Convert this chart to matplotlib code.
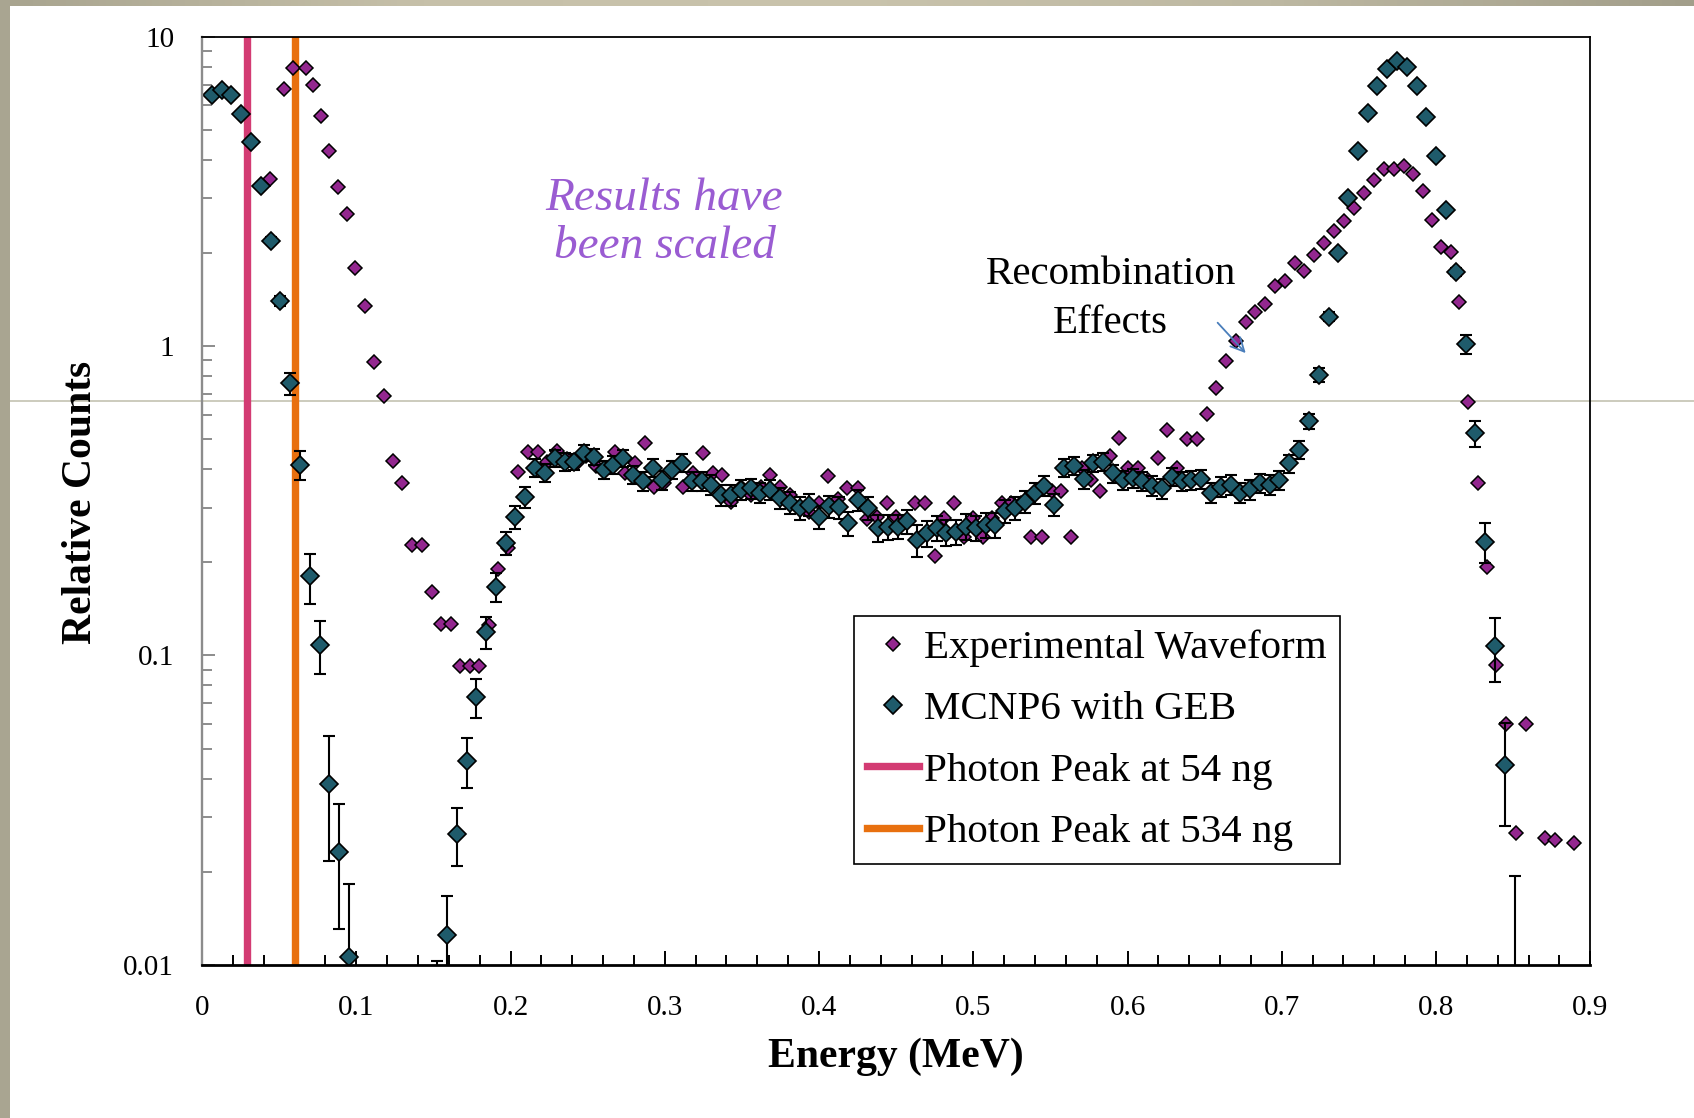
import numpy as np
import matplotlib
matplotlib.use("Agg")
import matplotlib.pyplot as plt
from matplotlib.lines import Line2D
from matplotlib.patches import Rectangle
from matplotlib.colors import LinearSegmentedColormap
from matplotlib.ticker import MultipleLocator, LogLocator, NullFormatter, FuncFormatter

plt.rcParams["font.family"] = ["Liberation Serif", "DejaVu Serif"]

# ---------------------------------------------------------------------------
# MCNP6 with GEB: bin energy (MeV), relative counts and 1-sigma uncertainty
# ---------------------------------------------------------------------------
sim_energy = [
    0.0064, 0.0127, 0.0191, 0.0254, 0.0318, 0.0381, 0.0445, 0.0508, 0.0572, 0.0635,
    0.0699, 0.0762, 0.0826, 0.0889, 0.0953,
    0.1524, 0.1588, 0.1651, 0.1715, 0.1778, 0.1842, 0.1905, 0.1969, 0.2032, 0.2096, 0.2159,
    0.2223, 0.2286, 0.2350, 0.2413, 0.2477, 0.2540, 0.2604, 0.2667, 0.2731, 0.2794,
    0.2858, 0.2921, 0.2985, 0.3048, 0.3112, 0.3175, 0.3239, 0.3302, 0.3366, 0.3429,
    0.3493, 0.3556, 0.3620, 0.3683, 0.3747, 0.3810, 0.3874, 0.3937, 0.4001, 0.4064,
    0.4128, 0.4191, 0.4255, 0.4318, 0.4382, 0.4445, 0.4509, 0.4572, 0.4636, 0.4699,
    0.4763, 0.4826, 0.4890, 0.4953, 0.5017, 0.5080, 0.5144, 0.5207, 0.5271, 0.5334,
    0.5398, 0.5461, 0.5525, 0.5588, 0.5652, 0.5715, 0.5779, 0.5842, 0.5906, 0.5969,
    0.6033, 0.6096, 0.6160, 0.6223, 0.6287, 0.6350, 0.6414, 0.6477, 0.6541, 0.6604,
    0.6668, 0.6731, 0.6795, 0.6858, 0.6922, 0.6985, 0.7049, 0.7112, 0.7176, 0.7239,
    0.7303, 0.7366, 0.7430, 0.7493, 0.7557, 0.7620, 0.7684, 0.7747, 0.7811, 0.7874,
    0.7938, 0.8001, 0.8065, 0.8128, 0.8192, 0.8255, 0.8319, 0.8382, 0.8446, 0.8509,
]
sim_counts = [
    6.48, 6.75, 6.48, 5.61, 4.55, 3.30, 2.19, 1.40, 0.757, 0.413,
    0.180, 0.108, 0.0383, 0.0231, 0.0106,
    0.006, 0.0125, 0.0265, 0.0456, 0.0735, 0.119, 0.1665, 0.231, 0.281, 0.325, 0.403,
    0.390, 0.434, 0.423, 0.423, 0.451, 0.439, 0.398, 0.413, 0.434, 0.383,
    0.365, 0.403, 0.369, 0.398, 0.420, 0.365, 0.365, 0.356, 0.330, 0.330,
    0.343, 0.347, 0.335, 0.343, 0.322, 0.312, 0.299, 0.307, 0.281, 0.303,
    0.301, 0.267, 0.317, 0.299, 0.258, 0.260, 0.261, 0.271, 0.236, 0.248,
    0.258, 0.249, 0.251, 0.261, 0.258, 0.264, 0.264, 0.292, 0.299, 0.314,
    0.335, 0.353, 0.307, 0.403, 0.410, 0.371, 0.418, 0.423, 0.388, 0.369,
    0.375, 0.366, 0.353, 0.347, 0.378, 0.365, 0.369, 0.371, 0.335, 0.351,
    0.356, 0.335, 0.344, 0.360, 0.356, 0.369, 0.418, 0.462, 0.573, 0.807,
    1.246, 2.00, 3.01, 4.28, 5.66, 6.94, 7.86, 8.32, 7.97, 6.94,
    5.52, 4.10, 2.76, 1.733, 1.016, 0.523, 0.233, 0.107, 0.0443, 0.004,
]
sim_error = [
    0.05, 0.05, 0.05, 0.05, 0.05, 0.05, 0.06, 0.05, 0.06, 0.044,
    0.033, 0.021, 0.0167, 0.010, 0.0077,
    0.0043, 0.0042, 0.0057, 0.0084, 0.0107, 0.014, 0.0176, 0.020, 0.024, 0.025, 0.027,
    0.027, 0.026, 0.027, 0.026, 0.027, 0.027, 0.026, 0.027, 0.027, 0.026,
    0.026, 0.027, 0.026, 0.027, 0.027, 0.026, 0.026, 0.026, 0.025, 0.025,
    0.026, 0.026, 0.025, 0.026, 0.025, 0.025, 0.025, 0.025, 0.024, 0.025,
    0.025, 0.024, 0.025, 0.025, 0.026, 0.024, 0.024, 0.025, 0.028, 0.024,
    0.024, 0.024, 0.024, 0.025, 0.024, 0.025, 0.025, 0.025, 0.025, 0.026,
    0.026, 0.026, 0.025, 0.027, 0.027, 0.026, 0.027, 0.027, 0.026, 0.026,
    0.026, 0.026, 0.026, 0.026, 0.026, 0.026, 0.026, 0.026, 0.025, 0.026,
    0.026, 0.025, 0.026, 0.026, 0.026, 0.026, 0.028, 0.030, 0.032, 0.040,
    0.045, 0.05, 0.06, 0.07, 0.08, 0.09, 0.09, 0.09, 0.09, 0.09,
    0.08, 0.07, 0.06, 0.05, 0.07, 0.05, 0.034, 0.025, 0.0163, 0.0153,
]

# ---------------------------------------------------------------------------
# Experimental waveform: channel energy (MeV) and relative counts
# ---------------------------------------------------------------------------
exp_energy = [
    0.0441, 0.0532, 0.0588, 0.0672, 0.0721, 0.0771, 0.0826, 0.0882, 0.0938, 0.0995,
    0.1058, 0.1114, 0.1177, 0.1236, 0.1299, 0.1361, 0.1426, 0.1489, 0.1549, 0.1612,
    0.1672, 0.1735, 0.1798, 0.1862, 0.1921, 0.1986, 0.2050, 0.2111, 0.2177, 0.2234,
    0.2304, 0.2365, 0.2428, 0.2492, 0.2555, 0.2618, 0.2675, 0.2744, 0.2808, 0.2869,
    0.2930, 0.2993, 0.3057, 0.3120, 0.3181, 0.3250, 0.3310, 0.3371, 0.3431, 0.3496,
    0.3559, 0.3622, 0.3682, 0.3747, 0.3810, 0.3873, 0.3936, 0.3999, 0.4060, 0.4124,
    0.4183, 0.4250, 0.4311, 0.4375, 0.4439, 0.4499, 0.4560, 0.4622, 0.4687, 0.4752,
    0.4813, 0.4877, 0.4940, 0.5001, 0.5061, 0.5122, 0.5184, 0.5247, 0.5310, 0.5374,
    0.5443, 0.5508, 0.5569, 0.5634, 0.5708, 0.5765, 0.5822, 0.5884, 0.5945, 0.6006,
    0.6069, 0.6135, 0.6195, 0.6258, 0.6321, 0.6385, 0.6448, 0.6513, 0.6574, 0.6638,
    0.6703, 0.6766, 0.6828, 0.6891, 0.6956, 0.7021, 0.7086, 0.7146, 0.7211, 0.7276,
    0.7339, 0.7403, 0.7468, 0.7532, 0.7597, 0.7662, 0.7727, 0.7792, 0.7853, 0.7913,
    0.7972, 0.8030, 0.8095, 0.8152, 0.8210, 0.8270, 0.8328, 0.8388, 0.8454, 0.8516,
    0.8581, 0.8706, 0.8771, 0.8896,
]
exp_counts = [
    3.46, 6.8, 7.9, 7.9, 7.0, 5.56, 4.26, 3.27, 2.68, 1.79,
    1.35, 0.89, 0.69, 0.425, 0.36, 0.227, 0.227, 0.16, 0.126, 0.126,
    0.0925, 0.0925, 0.0925, 0.125, 0.190, 0.222, 0.391, 0.456, 0.456, 0.421,
    0.459, 0.43, 0.42, 0.44, 0.41, 0.40, 0.455, 0.388, 0.420, 0.485,
    0.351, 0.36, 0.40, 0.351, 0.388, 0.451, 0.388, 0.383, 0.314, 0.35,
    0.33, 0.35, 0.383, 0.351, 0.33, 0.30, 0.29, 0.31, 0.380, 0.32,
    0.347, 0.347, 0.276, 0.28, 0.312, 0.28, 0.27, 0.312, 0.311, 0.210,
    0.278, 0.310, 0.241, 0.278, 0.242, 0.278, 0.311, 0.312, 0.31, 0.241,
    0.241, 0.339, 0.339, 0.241, 0.405, 0.369, 0.340, 0.442, 0.503, 0.403,
    0.403, 0.37, 0.436, 0.536, 0.403, 0.501, 0.501, 0.602, 0.734, 0.898,
    1.042, 1.20, 1.29, 1.366, 1.569, 1.624, 1.862, 1.754, 1.97, 2.15,
    2.35, 2.53, 2.79, 3.12, 3.43, 3.73, 3.73, 3.83, 3.60, 3.16,
    2.56, 2.09, 2.02, 1.393, 0.661, 0.360, 0.193, 0.0932, 0.060, 0.0266,
    0.060, 0.0257, 0.0253, 0.0247,
]

# Photon peak positions (MeV)
peak_labels = ["Photon Peak at 54 ng", "Photon Peak at 534 ng"]
peak_energy = [0.0290, 0.0603]
peak_colors = ["#D33B73", "#E8700F"]

EXP_COLOR = "#93278F"
SIM_COLOR = "#1F5B6B"

W, H = 1694, 1118
fig = plt.figure(figsize=(W / 100, H / 100), dpi=100)
fig.patch.set_facecolor("white")

# slide frame: left band, top band and the thin title rule
fig.add_artist(Line2D([9.6 / W, 1.0], [1 - 401 / H] * 2, transform=fig.transFigure,
                      color="#C8C7B8", lw=1.3, zorder=-2))
fig.patches.append(Rectangle((0, 0), 9.6 / W, 1, transform=fig.transFigure,
                             facecolor="#A9A591", edgecolor="none", zorder=-1))
band = fig.add_axes([0, 1 - 5.7 / H, 1, 5.7 / H], zorder=-1)
band_cmap = LinearSegmentedColormap.from_list(
    "band", ["#A8A48F", "#C6C0A9", "#C9C3AC", "#BDB8A2", "#A29E8A"])
band.imshow(np.linspace(0, 1, 256)[None, :], cmap=band_cmap, aspect="auto",
            extent=[0, 1, 0, 1])
band.axis("off")

ax = fig.add_axes([202 / W, 1 - 964.8 / H, 1388.3 / W, 928.1 / H])
ax.set_facecolor("none")
ax.set_yscale("log")
ax.set_xlim(0, 0.9)
ax.set_ylim(0.01, 10)

# photon peak markers
peak_handles = []
for e, c, lab in zip(peak_energy, peak_colors, peak_labels):
    peak_handles.append(ax.axvline(e, color=c, lw=5.3, zorder=2, label=lab))

# experimental waveform
h_exp, = ax.plot(exp_energy, exp_counts, ls="none", marker="D", ms=6.7,
                 mfc=EXP_COLOR, mec="black", mew=1.1, zorder=3,
                 label="Experimental Waveform")

# simulation with error bars
sim_c = np.array(sim_counts)
sim_e = np.array(sim_error)
lower = np.minimum(sim_e, sim_c * 0.9)
ax.errorbar(sim_energy, sim_counts, yerr=[lower, sim_e], fmt="none",
            ecolor="black", elinewidth=1.5, capsize=4.4, capthick=1.5, zorder=3.5)
h_sim, = ax.plot(sim_energy, sim_counts, ls="none", marker="D", ms=9.0,
                 mfc=SIM_COLOR, mec="black", mew=1.2, zorder=4,
                 label="MCNP6 with GEB")

# axes styling
for side in ("top", "right"):
    ax.spines[side].set_linewidth(1.3)
    ax.spines[side].set_color("black")
ax.spines["bottom"].set_linewidth(2.0)
ax.spines["bottom"].set_color("black")
ax.spines["left"].set_linewidth(1.7)
ax.spines["left"].set_color("#8C8C8C")
for s in ax.spines.values():
    s.set_zorder(5)

ax.xaxis.set_major_locator(MultipleLocator(0.1))
ax.xaxis.set_minor_locator(MultipleLocator(0.02))
ax.xaxis.set_major_formatter(FuncFormatter(lambda v, p: f"{v:g}"))
ax.yaxis.set_major_locator(LogLocator(base=10, numticks=10))
ax.yaxis.set_minor_locator(LogLocator(base=10, subs=np.arange(2, 10), numticks=30))
ax.yaxis.set_minor_formatter(NullFormatter())
ax.yaxis.set_major_formatter(FuncFormatter(lambda v, p: f"{v:g}"))

ax.tick_params(axis="x", which="both", direction="in", color="black", width=1.4,
               labelsize=21, pad=22, top=False)
ax.tick_params(axis="x", which="major", length=10)
ax.tick_params(axis="x", which="minor", length=7)
ax.tick_params(axis="y", which="both", direction="in", color="#8C8C8C", width=1.4,
               labelsize=21, pad=20, right=False)
ax.tick_params(axis="y", which="major", length=9)
ax.tick_params(axis="y", which="minor", length=7)

ax.set_xlabel("Energy (MeV)", fontsize=30, fontweight="bold")
ax.xaxis.set_label_coords(0.5, -0.099)
ax.xaxis.label.set_verticalalignment("center")
ax.set_ylabel("Relative Counts", fontsize=30, fontweight="bold")
ax.yaxis.set_label_coords(-0.087, 0.4987)
ax.yaxis.label.set_verticalalignment("center")

# annotations
ax.text(0.2998, 2.50, "Results have\nbeen scaled", color="#9A5CD2", fontsize=34,
        style="italic", ha="center", va="center", linespacing=1.18, zorder=6)
ax.text(0.589, 1.417, "Recombination\nEffects", color="black", fontsize=29.5,
        ha="center", va="center", linespacing=1.44, zorder=6)
ax.annotate("", xy=(0.6766, 0.949), xytext=(0.6584, 1.19),
            arrowprops=dict(arrowstyle="->", color="#4A7EBB", lw=1.3,
                            mutation_scale=24, shrinkA=0, shrinkB=0),
            zorder=6)

leg = ax.legend(handles=[h_exp, h_sim] + peak_handles, loc="upper left",
                bbox_to_anchor=(0.4693, 0.3758), fontsize=29.5, frameon=True,
                fancybox=False, framealpha=1, edgecolor="black",
                borderpad=0.33, labelspacing=0.575, handlelength=1.28,
                handletextpad=0.1, borderaxespad=0)
leg.get_frame().set_linewidth(1.2)
leg.set_zorder(7)

fig.savefig("out.png", dpi=100, facecolor="white")
